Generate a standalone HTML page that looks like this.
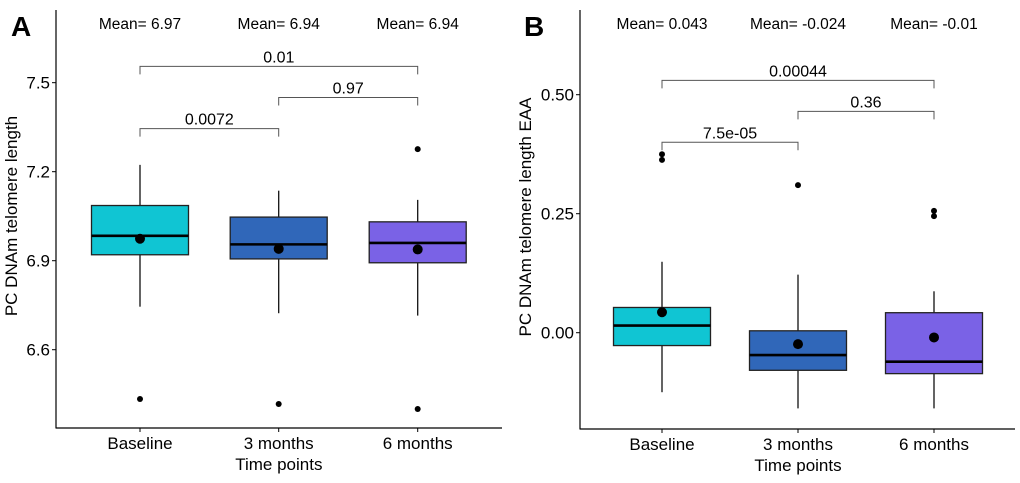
<!DOCTYPE html>
<html><head><meta charset="utf-8"><style>
body{margin:0;background:#fff;width:1020px;height:478px;overflow:hidden}
svg text{font-family:"Liberation Sans",Arial,sans-serif;fill:#000}
</style></head><body>
<svg id="chart" width="1020" height="478" viewBox="0 0 1020 478" xmlns="http://www.w3.org/2000/svg"></svg>
<script>
const categories = ["Baseline", "3 months", "6 months"];
const colors = ["#10c5d3", "#3067b9", "#7a62e6"];
// Panel A data
const aQ1 = [6.920, 6.906, 6.893];
const aMedian = [6.984, 6.955, 6.960];
const aQ3 = [7.086, 7.047, 7.031];
const aWhiskLo = [6.745, 6.723, 6.715];
const aWhiskHi = [7.223, 7.136, 7.105];
const aMean = [6.974, 6.940, 6.938];
const aOutliers = [[6.434], [6.417], [7.276, 6.400]];
const aMeanLabels = ["Mean= 6.97", "Mean= 6.94", "Mean= 6.94"];
const aTicks = [6.6, 6.9, 7.2, 7.5];
const aTickLabels = ["6.6", "6.9", "7.2", "7.5"];
const aBrackets = [[0, 1, 7.345, "0.0072"], [1, 2, 7.450, "0.97"], [0, 2, 7.555, "0.01"]];
// Panel B data
const bQ1 = [-0.027, -0.079, -0.086];
const bMedian = [0.015, -0.047, -0.061];
const bQ3 = [0.053, 0.004, 0.042];
const bWhiskLo = [-0.125, -0.159, -0.159];
const bWhiskHi = [0.149, 0.122, 0.087];
const bMean = [0.043, -0.024, -0.010];
const bOutliers = [[0.375, 0.363], [0.310], [0.256, 0.245]];
const bMeanLabels = ["Mean= 0.043", "Mean= -0.024", "Mean= -0.01"];
const bTicks = [0.0, 0.25, 0.5];
const bTickLabels = ["0.00", "0.25", "0.50"];
const bBrackets = [[0, 1, 0.400, "7.5e-05"], [1, 2, 0.465, "0.36"], [0, 2, 0.530, "0.00044"]];

const svg = document.getElementById('chart');
const NS = "http://www.w3.org/2000/svg";
function mk(tag, attrs, parent, txt) {
  const e = document.createElementNS(NS, tag);
  for (const k in attrs) e.setAttribute(k, attrs[k]);
  if (txt !== undefined) e.textContent = txt;
  (parent || svg).appendChild(e);
  return e;
}

function panel(cfg) {
  const g = mk('g', {});
  
  
  const y = v => cfg.y0 - (v - cfg.v0) * cfg.k;
  const x = i => cfg.xs[i];
  const ax = mk('line', {x1: cfg.axX, y1: 10, x2: cfg.axX, y2: cfg.axY + 0.5, stroke: '#000', 'stroke-width': 1.2}, g);
  
  
  const bx = mk('line', {x1: cfg.axX, y1: cfg.axY, x2: cfg.axR, y2: cfg.axY, stroke: '#000', 'stroke-width': 1.2}, g);
  
  
  cfg.ticks.forEach((t, i) => {
    mk('line', {x1: cfg.axX - 4, x2: cfg.axX, y1: y(t), y2: y(t), stroke: '#000'}, g);
    const tl = mk('text', {x: cfg.axX - 6, y: y(t) + 6, 'text-anchor': 'end', 'font-size': 17, fill: '#222'}, g, cfg.tickLabels[i]);
    
    
  });
  categories.forEach((c, i) => {
    mk('line', {x1: x(i), x2: x(i), y1: cfg.axY, y2: cfg.axY + 4, stroke: '#000'}, g);
    const cl = mk('text', {x: x(i), y: cfg.axY + 21, 'text-anchor': 'middle', 'font-size': 17, fill: '#222'}, g, c);
    
    
  });
  const xt = mk('text', {x: (x(0) + x(2)) / 2, y: cfg.axY + 42, 'text-anchor': 'middle', 'font-size': 17}, g, 'Time points');
  
  
  const yt = mk('text', {x: 0, y: 0, 'text-anchor': 'middle', 'font-size': 17, transform: `translate(${cfg.yTitleX},${cfg.yTitleY}) rotate(-90)`}, g, cfg.yTitle);
  
  
  const pl = mk('text', {x: cfg.letterX, y: 36, 'font-size': 28, 'font-weight': 'bold'}, g, cfg.letter);
  
  
  const hw = 48.5;
  categories.forEach((c, i) => {
    const w1 = mk('line', {x1: x(i), x2: x(i), y1: y(cfg.wHi[i]), y2: y(cfg.q3[i]), stroke: '#111', 'stroke-width': 1.3}, g);
    
    
    const w2 = mk('line', {x1: x(i), x2: x(i), y1: y(cfg.q1[i]), y2: y(cfg.wLo[i]), stroke: '#111', 'stroke-width': 1.3}, g);
    
    
    const r = mk('rect', {x: x(i) - hw, y: y(cfg.q3[i]), width: 2 * hw, height: y(cfg.q1[i]) - y(cfg.q3[i]), fill: colors[i], stroke: '#222', 'stroke-width': 1.3}, g);
    
    
    const m = mk('line', {x1: x(i) - hw, x2: x(i) + hw, y1: y(cfg.med[i]), y2: y(cfg.med[i]), stroke: '#000', 'stroke-width': 2.6}, g);
    
    
    const mp = mk('circle', {cx: x(i), cy: y(cfg.mean[i]), r: 5, fill: '#000'}, g);
    
    
    cfg.out[i].forEach(o => {
      const op = mk('circle', {cx: x(i), cy: y(o), r: 3, fill: '#000'}, g);
      
      
    });
    const ml = mk('text', {x: x(i), y: 29, 'text-anchor': 'middle', 'font-size': 15.5}, g, cfg.meanLabels[i]);
    
    
  });
  cfg.brackets.forEach(b => {
    const by = y(b[2]);
    const br = mk('path', {d: `M${x(b[0])},${by + 8}V${by}H${x(b[1])}V${by + 8}`, fill: 'none', stroke: '#555', 'stroke-width': 1}, g);
    
    
    const bt = mk('text', {x: (x(b[0]) + x(b[1])) / 2, y: by - 4, 'text-anchor': 'middle', 'font-size': 16}, g, b[3]);
    
    
  });
}

panel({name: 'panel-a', xs: [140, 278.7, 417.7], axX: 56, axY: 428, axR: 502, y0: 260.7, v0: 6.9, k: 296.7,
  q1: aQ1, med: aMedian, q3: aQ3, wLo: aWhiskLo, wHi: aWhiskHi, mean: aMean, out: aOutliers,
  meanLabels: aMeanLabels, ticks: aTicks, tickLabels: aTickLabels, brackets: aBrackets,
  yTitle: 'PC DNAm telomere length', yTitleX: 17, yTitleY: 216, letter: 'A', letterX: 11});
panel({name: 'panel-b', xs: [662, 798, 934], axX: 580, axY: 429, axR: 1015, y0: 332.7, v0: 0, k: 476,
  q1: bQ1, med: bMedian, q3: bQ3, wLo: bWhiskLo, wHi: bWhiskHi, mean: bMean, out: bOutliers,
  meanLabels: bMeanLabels, ticks: bTicks, tickLabels: bTickLabels, brackets: bBrackets,
  yTitle: 'PC DNAm telomere length EAA', yTitleX: 531, yTitleY: 217, letter: 'B', letterX: 524});
</script>
</body></html>
